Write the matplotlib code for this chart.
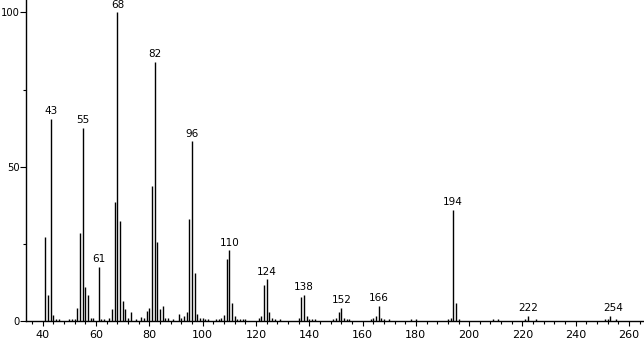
import matplotlib
matplotlib.use("Agg")
import matplotlib.pyplot as plt
from matplotlib.ticker import MultipleLocator

mz = [41, 42, 43, 44, 45, 46, 50, 51, 52, 53, 54, 55, 56, 57, 58, 59,
      61, 62, 63, 65, 66, 67, 68, 69, 70, 71, 72, 73, 75, 77, 78, 79, 80,
      81, 82, 83, 84, 85, 86, 87, 89, 91, 92, 93, 94, 95, 96, 97, 98, 99,
      100, 101, 102, 105, 106, 107, 108, 109, 110, 111, 112, 113, 114, 115,
      116, 121, 122, 123, 124, 125, 126, 127, 129, 136, 137, 138, 139, 140,
      141, 142, 149, 150, 151, 152, 153, 154, 155, 163, 164, 165, 166, 167,
      168, 170, 178, 180, 192, 193, 194, 195, 196, 209, 211, 221, 222, 225,
      251, 252, 253, 255]
intensity = [27.2, 8.5, 65.5, 2.0, 0.6, 0.6, 0.6, 0.8, 0.8, 4.3, 28.6, 62.6,
             11.1, 8.5, 0.9, 0.9, 17.6, 0.6, 0.6, 0.9, 4.0, 38.7, 100.0, 32.5,
             6.6, 4.0, 0.9, 3.0, 0.6, 1.4, 0.9, 3.3, 4.3, 43.8, 84.0, 25.7,
             4.0, 5.0, 0.9, 0.9, 0.6, 2.4, 0.9, 1.7, 3.0, 33.2, 58.3, 15.7,
             2.4, 0.9, 0.9, 0.6, 0.6, 0.6, 0.6, 0.9, 2.0, 20.2, 23.0, 5.9,
             1.7, 0.6, 0.6, 0.6, 0.6, 0.9, 1.7, 11.7, 13.5, 3.0, 0.9, 0.6,
             0.6, 0.9, 7.9, 8.5, 1.7, 0.6, 0.6, 0.6, 0.6, 0.9, 3.0, 4.3, 0.9,
             0.6, 0.6, 0.6, 0.9, 1.7, 5.0, 0.9, 0.6, 0.6, 0.6, 0.6, 0.6, 0.9,
             36.0, 5.9, 0.6, 0.6, 0.6, 0.6, 1.7, 0.6, 0.6, 0.6, 1.7, 0.6]
labeled = [43, 55, 61, 68, 82, 96, 110, 124, 138, 152, 166, 194, 222, 254]
label_height = {254: 1.7}

fig = plt.figure(figsize=(6.44, 3.39), dpi=100)
ax = fig.add_axes([26 / 644, 18 / 339, 1 - 26 / 644, 1 - 18 / 339])
ax.vlines(mz, 0, intensity, colors="black", linewidth=1.0)

lookup = dict(zip(mz, intensity))
for m in labeled:
    h = lookup.get(m, label_height.get(m, 0))
    ax.text(m, h + 0.8, str(m), ha="center", va="bottom", fontsize=7.5,
            clip_on=False)

ax.set_xlim(33.7, 265.6)
ax.set_ylim(0, 104)
for s in ["top", "right"]:
    ax.spines[s].set_visible(False)
ax.spines["left"].set_linewidth(1.0)
ax.spines["bottom"].set_linewidth(1.0)
ax.xaxis.set_major_locator(MultipleLocator(20))
ax.xaxis.set_minor_locator(MultipleLocator(4))
ax.yaxis.set_major_locator(MultipleLocator(50))
ax.yaxis.set_minor_locator(MultipleLocator(25))
ax.tick_params(axis="x", which="major", length=3.5, width=0.8, pad=3,
               labelsize=8)
ax.tick_params(axis="x", which="minor", length=2, width=0.8)
ax.tick_params(axis="y", which="major", length=4, width=0.8, pad=0.3,
               labelsize=7.2)
ax.tick_params(axis="y", which="minor", length=2.5, width=0.8)
ax.set_xticks([40, 60, 80, 100, 120, 140, 160, 180, 200, 220, 240, 260])
fig.savefig("out.png", dpi=100)
